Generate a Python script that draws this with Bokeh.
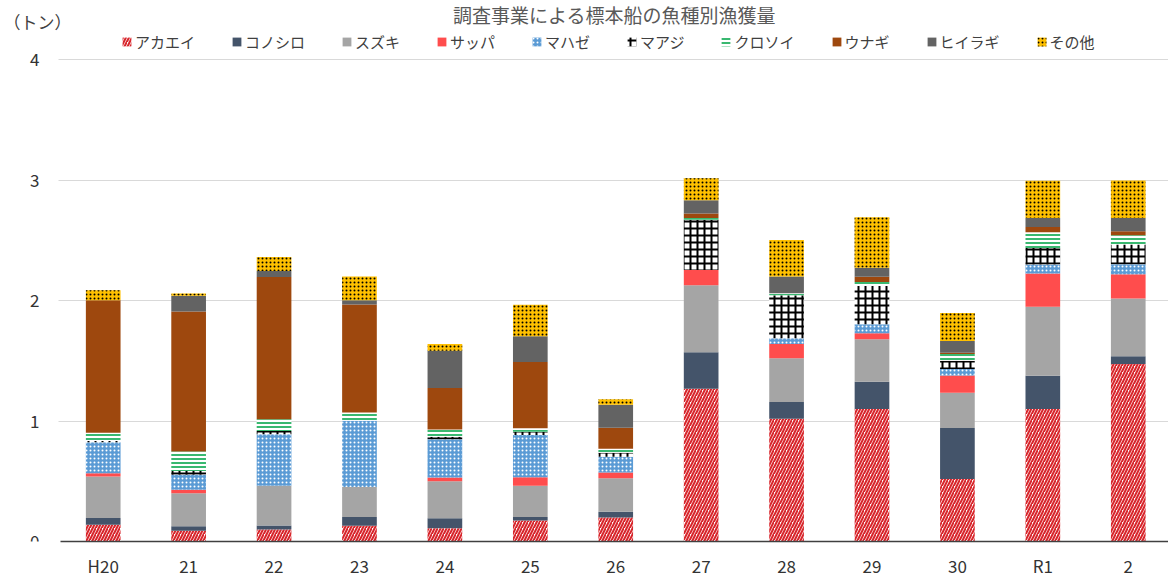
from bokeh.plotting import figure
from bokeh.models import Range1d, FixedTicker, Legend, LegendItem, Label, ColumnDataSource
from bokeh.embed import file_html
from bokeh.resources import INLINE

categories = ["H20", "21", "22", "23", "24", "25", "26", "27", "28", "29", "30", "R1", "2"]
series_names = ["アカエイ", "コノシロ", "スズキ", "サッパ", "マハゼ", "マアジ", "クロソイ", "ウナギ", "ヒイラギ", "その他"]

akaei     = [0.14, 0.09, 0.10, 0.13, 0.11, 0.175, 0.20, 1.267, 1.019, 1.10, 0.518, 1.10, 1.474]
konoshiro = [0.055, 0.036, 0.033, 0.074, 0.083, 0.028, 0.047, 0.303, 0.138, 0.226, 0.424, 0.276, 0.063]
suzuki    = [0.345, 0.275, 0.33, 0.248, 0.306, 0.26, 0.278, 0.556, 0.364, 0.353, 0.292, 0.573, 0.48]
sappa     = [0.027, 0.028, 0.0, 0.0, 0.033, 0.07, 0.047, 0.127, 0.118, 0.05, 0.143, 0.275, 0.20]
mahaze    = [0.256, 0.124, 0.427, 0.55, 0.317, 0.35, 0.132, 0.0, 0.047, 0.074, 0.055, 0.074, 0.083]
maaji     = [0.01, 0.033, 0.028, 0.0, 0.02, 0.028, 0.033, 0.418, 0.358, 0.317, 0.069, 0.138, 0.165]
kurosoi   = [0.07, 0.16, 0.096, 0.069, 0.06, 0.028, 0.033, 0.014, 0.017, 0.033, 0.055, 0.13, 0.077]
unagi     = [1.10, 1.163, 1.18, 0.895, 0.345, 0.55, 0.174, 0.036, 0.0, 0.044, 0.01, 0.044, 0.033]
hiiragi   = [0.0, 0.13, 0.05, 0.036, 0.31, 0.215, 0.19, 0.11, 0.138, 0.074, 0.097, 0.074, 0.11]
sonota    = [0.083, 0.02, 0.116, 0.198, 0.055, 0.26, 0.047, 0.184, 0.303, 0.42, 0.234, 0.31, 0.31]

series_values = [akaei, konoshiro, suzuki, sappa, mahaze, maaji, kurosoi, unagi, hiiragi, sonota]
y_ticks = [0, 1, 2, 3, 4]
title_text = "調査事業による標本船の魚種別漁獲量"
unit_text = "（トン）"

FONT = "Noto Sans CJK JP"

styles = [
    dict(fill_color="white", hatch_color="#d8262c", hatch_pattern="/", hatch_scale=6, hatch_weight=2.1),
    dict(fill_color="#44546a"),
    dict(fill_color="#a5a5a5"),
    dict(fill_color="#ff4d4d"),
    dict(fill_color="#5b9bd5", hatch_color="white", hatch_pattern=".", hatch_scale=4, hatch_weight=1.3),
    dict(fill_color="white", hatch_color="black", hatch_pattern="+", hatch_scale=7, hatch_weight=2),
    dict(fill_color="white", hatch_color="#22b060", hatch_pattern="-", hatch_scale=4, hatch_weight=1.8),
    dict(fill_color="#9e480e"),
    dict(fill_color="#636363"),
    dict(fill_color="#ffc000", hatch_color="black", hatch_pattern=".", hatch_scale=4, hatch_weight=1.1),
]

cols = [f"s{i}" for i in range(len(series_names))]
data = {"x": list(range(len(categories)))}
for c, v in zip(cols, series_values):
    data[c] = v
src = ColumnDataSource(data)

W, H = 1168, 585
BOTTOM = 44
PX_PER_CAT = 85.42
PX_PER_TON = 120.5
frame_h = H - BOTTOM
x_start = -0.5 - 60 / PX_PER_CAT
x_end = -0.5 + (W - 60) / PX_PER_CAT
y_end = frame_h / PX_PER_TON

p = figure(width=W, height=H, output_backend="svg", toolbar_location=None,
           x_range=Range1d(x_start, x_end), y_range=Range1d(0, y_end),
           min_border_left=0, min_border_right=0, min_border_top=0, min_border_bottom=BOTTOM)
p.outline_line_color = None
p.background_fill_color = "white"
p.border_fill_color = "white"

renderers = p.vbar_stack(cols, x="x", width=0.406, source=src, line_color=None)
for r, st in zip(renderers, styles):
    for k, v in st.items():
        setattr(r.glyph, k, v)

# x axis
p.xaxis.ticker = FixedTicker(ticks=list(range(len(categories))))
p.xaxis.major_label_overrides = {i: c for i, c in enumerate(categories)}
p.xaxis.major_tick_line_color = None
p.xaxis.minor_tick_line_color = None
p.xaxis.axis_line_color = "#404040"
p.xaxis.axis_line_width = 1.6
p.xaxis.major_label_standoff = 5
p.xaxis.major_label_text_font = FONT
p.xaxis.major_label_text_font_size = "17px"
p.xaxis.major_label_text_color = "#333333"
p.xaxis.bounds = (-0.5, x_end)

# y axis drawn at the left edge of the first category
p.yaxis.fixed_location = -0.5
p.yaxis.ticker = FixedTicker(ticks=y_ticks)
p.yaxis.axis_line_color = None
p.yaxis.major_tick_line_color = None
p.yaxis.minor_tick_line_color = None
p.yaxis.major_label_standoff = 15
p.yaxis.major_label_text_font = FONT
p.yaxis.major_label_text_font_size = "17px"
p.yaxis.major_label_text_color = "#333333"

p.xgrid.grid_line_color = None
p.ygrid.grid_line_color = "#d9d9d9"
p.ygrid.grid_line_width = 1
g = p.ygrid[0]
if "cross_bounds" in g.properties():
    g.cross_bounds = (-0.52, x_end)

items = [LegendItem(label=n, renderers=[r]) for n, r in zip(series_names, renderers)]
legend = Legend(items=items, orientation="horizontal", location=(121, 489),
                glyph_width=11, glyph_height=11, label_standoff=3, spacing=36,
                padding=0, margin=0, border_line_color=None, background_fill_alpha=0,
                label_text_font=FONT, label_text_font_size="15px", label_text_color="#404040")
p.add_layout(legend, "center")

p.add_layout(Label(x=3, y=frame_h - 21, x_units="screen", y_units="screen", text=unit_text,
                   text_baseline="middle", text_font=FONT, text_font_size="17px", text_color="#404040"))
p.add_layout(Label(x=614, y=frame_h - 14, x_units="screen", y_units="screen", text=title_text,
                   text_align="center", text_baseline="middle", text_font=FONT,
                   text_font_size="19px", text_color="#595959"))

open("out.html", "w").write(file_html(p, INLINE))
